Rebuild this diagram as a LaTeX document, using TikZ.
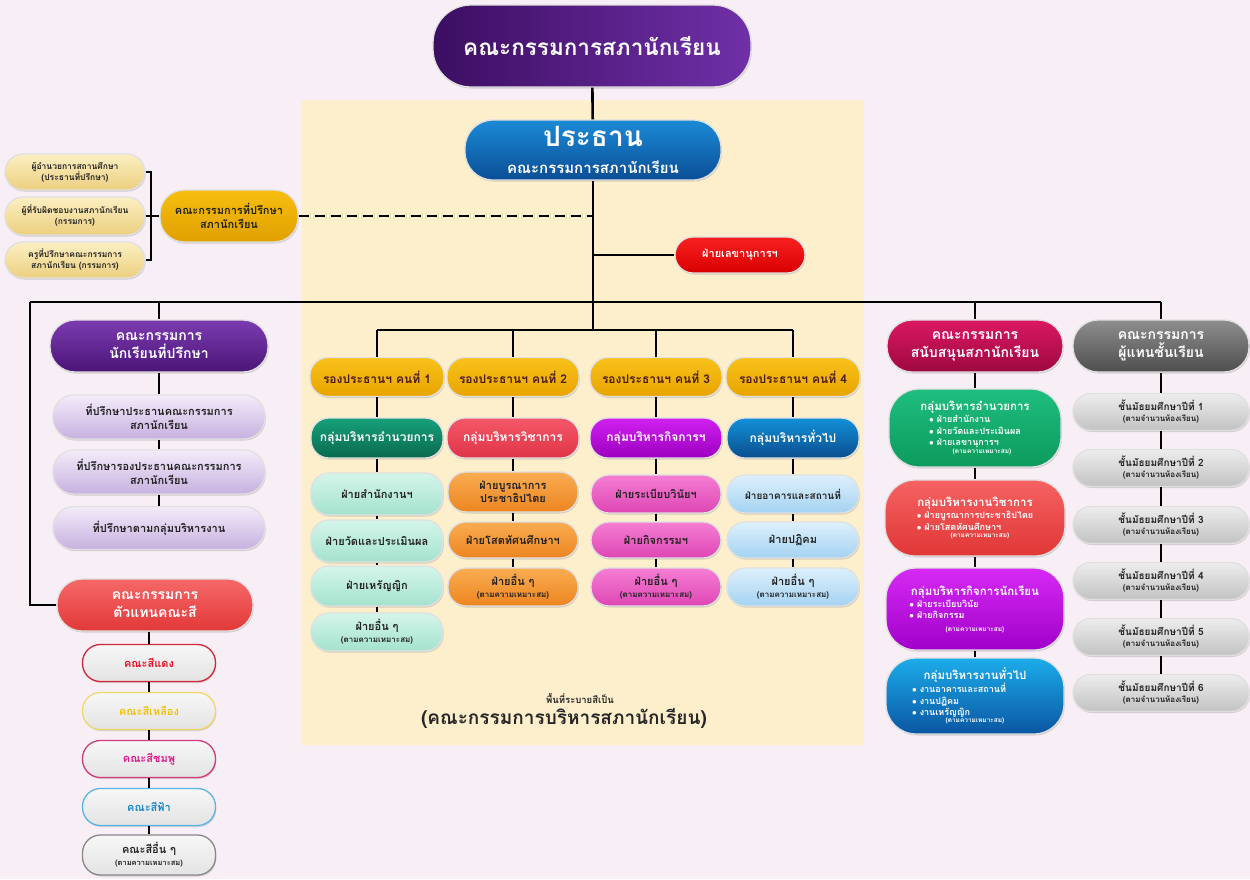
\documentclass[tikz,border=0pt]{standalone}
\usepackage{fontspec}
\setmainfont[Script=Thai]{Loma}
\usetikzlibrary{shadows}
\definecolor{bgc}{HTML}{F7EFF5}
\definecolor{cream}{HTML}{FDEFCC}
\definecolor{txtdark}{HTML}{222222}
\newcommand\FS[2]{\fontsize{#1}{#2}\selectfont}
\newcommand\nt[1]{{\FS{8}{9}#1}}
\begin{document}
\begin{tikzpicture}[x=1pt,y=-1pt,
  sh/.code 2 args={\definecolor{tmpT}{HTML}{#1}\definecolor{tmpB}{HTML}{#2}\pgfkeysalso{top color=tmpT, bottom color=tmpB}},
  lr/.code 2 args={\definecolor{tmpL}{HTML}{#1}\definecolor{tmpR}{HTML}{#2}\pgfkeysalso{left color=tmpL, right color=tmpR}},
  dc/.code={\definecolor{tmpD}{HTML}{#1}\pgfkeysalso{draw=tmpD}},
  tc/.code={\definecolor{tmpX}{HTML}{#1}\pgfkeysalso{text=tmpX}},
  pill/.style={rectangle, rounded corners=#1, align=center, inner sep=1pt, draw=black!12, line width=1.3pt, font=\bfseries, drop shadow={opacity=0.3, shadow xshift=0.8pt, shadow yshift=-1.5pt}},
  pill/.default=18pt,
  wh/.style 2 args={minimum width=#1, minimum height=#2},
  conn/.style={line width=2.6pt, black},
  wt/.style={text=white},
  dk/.style={text=txtdark},
  small/.style={pill, sh={FCEFC2}{ECCF80}, dk, wh={140}{36}, font=\bfseries\FS{8.5}{11}},
  lav/.style={pill=21pt, sh={F3ECFA}{C7B0DF}, dk, wh={212}{44}, font=\bfseries\FS{11}{14}},
  colb/.style={pill, sh={F8F7F7}{E3E3E3}, wh={133}{37}, font=\bfseries\FS{11}{13}},
  vice/.style={pill, sh={F8C21A}{E9A400}, tc=4A1A20, wh={132}{39}, font=\bfseries\FS{12}{14}},
  grp/.style={pill, wt, wh={132}{40}, font=\bfseries\FS{12}{14}},
  sub/.style={pill, dk, wh={130}{40}, font=\bfseries\FS{11}{13}},
  mint/.style={sub, sh={D4F5EA}{A4E2CE}},
  orng/.style={sub, sh={F9AC52}{EC8520}},
  pnk/.style={sub, sh={F57ED2}{DE46B4}},
  lblu/.style={sub, sh={DDF0FC}{A4D2F2}},
  head/.style={pill=25pt, wt, wh={176}{52}, font=\bfseries\FS{14}{18}},
  rbox/.style={pill=30pt, wt, wh={176}{76}, font=\bfseries\FS{9}{11.5}},
  grey/.style={pill, dk, sh={EDEDED}{C2C2C2}, wh={176}{37}, font=\bfseries\FS{10}{12}},
]
\useasboundingbox (0,0) rectangle (1250,879);
\fill[bgc] (0,0) rectangle (1250,879);
\fill[cream] (302,100) rectangle (864,745);

% ---------- top ----------
\node[pill=38pt, wt, lr={3C0E62}{7030A8}, wh={318}{82}, font=\bfseries\FS{22.5}{26}] (top) at (592,46) {คณะกรรมการสภานักเรียน};
\node[pill=28pt, wt, sh={1C8AD6}{0A4E96}, wh={256}{60}, font=\bfseries\FS{15}{27}] (chair) at (593,150) {{\FS{28}{30}ประธาน}\\คณะกรรมการสภานักเรียน};

% ---------- advisors ----------
\node[small] (s1) at (75,172) {ผู้อำนวยการสถานศึกษา\\(ประธานที่ปรึกษา)};
\node[small, wh={140}{38}] (s2) at (75,216) {ผู้ที่รับผิดชอบงานสภานักเรียน\\(กรรมการ)};
\node[small] (s3) at (75,260) {ครูที่ปรึกษาคณะกรรมการ\\สภานักเรียน (กรรมการ)};
\node[pill=24pt, sh={F7BE10}{E0A000}, dk, wh={138}{52}, font=\bfseries\FS{11}{14}] (ga) at (229,216) {คณะกรรมการที่ปรึกษา\\สภานักเรียน};
\node[pill, wt, sh={F82020}{D80000}, wh={130}{36}, font=\bfseries\FS{11}{13}] (sec) at (740,255) {ฝ่ายเลขานุการฯ};

% ---------- left column ----------
\node[head, sh={7C3CB0}{4A1478}, wh={218}{52}] (adv) at (159,346) {คณะกรรมการ\\นักเรียนที่ปรึกษา};
\node[lav] (l1) at (159,417) {ที่ปรึกษาประธานคณะกรรมการ\\สภานักเรียน};
\node[lav] (l2) at (159,472) {ที่ปรึกษารองประธานคณะกรรมการ\\สภานักเรียน};
\node[lav, wh={212}{43}] (l3) at (159,528) {ที่ปรึกษาตามกลุ่มบริหารงาน};

\node[head, sh={F66868}{E23838}, wh={196}{52}] (rep) at (155,605) {คณะกรรมการ\\ตัวแทนคณะสี};
\node[colb, dc=D02838, tc=E8101E] (k1) at (149,663) {คณะสีแดง};
\node[colb, dc=F0D868, tc=F2C200] (k2) at (149,711) {คณะสีเหลือง};
\node[colb, dc=D03A80, tc=E0188A] (k3) at (149,759) {คณะสีชมพู};
\node[colb, dc=58B4E4, tc=1A86CE] (k4) at (149,807) {คณะสีฟ้า};
\node[colb, dc=888888, dk, wh={133}{40}] (k5) at (149,855) {คณะสีอื่น ๆ\\[-1pt]{\FS{7.5}{8}(ตามความเหมาะสม)}};

% ---------- middle ----------
\node[vice, wh={134}{39}] (v1) at (377,377) {รองประธานฯ คนที่ 1};
\node[vice] (v2) at (513,377) {รองประธานฯ คนที่ 2};
\node[vice] (v3) at (656,377) {รองประธานฯ คนที่ 3};
\node[vice, wh={134}{39}] (v4) at (793,377) {รองประธานฯ คนที่ 4};

\node[grp, sh={16A07A}{0A6A4E}] (g1) at (377,438) {กลุ่มบริหารอำนวยการ};
\node[grp, sh={F45868}{E03448}] (g2) at (513,438) {กลุ่มบริหารวิชาการ};
\node[grp, sh={D020F0}{9C00C0}] (g3) at (656,438) {กลุ่มบริหารกิจการฯ};
\node[grp, sh={1290D8}{0A4E8E}] (g4) at (793,438) {กลุ่มบริหารทั่วไป};

\node[mint, wh={132}{42}] (a1) at (377,494) {ฝ่ายสำนักงานฯ};
\node[mint, wh={132}{42}] (b1) at (377,541) {ฝ่ายวัดและประเมินผล};
\node[mint, wh={132}{40}] (c1) at (377,586) {ฝ่ายเหรัญญิก};
\node[mint, wh={132}{38}] (d1) at (377,632) {ฝ่ายอื่น ๆ\\[-1pt]\nt{(ตามความเหมาะสม)}};

\node[orng] (a2) at (513,492) {ฝ่ายบูรณาการ\\ประชาธิปไตย};
\node[orng, wh={130}{36}] (b2) at (513,540) {ฝ่ายโสตทัศนศึกษาฯ};
\node[orng, wh={130}{38}] (c2) at (513,587) {ฝ่ายอื่น ๆ\\[-1pt]\nt{(ตามความเหมาะสม)}};

\node[pnk, wh={130}{38}] (a3) at (656,494) {ฝ่ายระเบียบวินัยฯ};
\node[pnk, wh={130}{36}] (b3) at (656,540) {ฝ่ายกิจกรรมฯ};
\node[pnk, wh={130}{38}] (c3) at (656,587) {ฝ่ายอื่น ๆ\\[-1pt]\nt{(ตามความเหมาะสม)}};

\node[lblu, wh={132}{38}, font=\bfseries\FS{10}{12}] (a4) at (793,494) {ฝ่ายอาคารและสถานที่};
\node[lblu, wh={132}{36}] (b4) at (793,540) {ฝ่ายปฏิคม};
\node[lblu, wh={132}{38}] (c4) at (793,587) {ฝ่ายอื่น ๆ\\[-1pt]\nt{(ตามความเหมาะสม)}};

\node[font=\bfseries\FS{9.5}{11}, text=black!85] (n1) at (580,698) {พื้นที่ระบายสีเป็น};
\node[font=\bfseries\FS{19}{22}, text=black!85] (n2) at (564,718) {(คณะกรรมการบริหารสภานักเรียน)};

% ---------- right support ----------
\node[head, sh={DA1862}{9E0840}] (sup) at (975,346) {คณะกรรมการ\\สนับสนุนสภานักเรียน};
\node[rbox, sh={1EBE80}{0C9A5C}, wh={172}{78}] (rg) at (975,428) {{\FS{11.5}{13}กลุ่มบริหารอำนวยการ}\\
  \begin{tabular}{@{}l@{}}$\bullet$ ฝ่ายสำนักงาน\\$\bullet$ ฝ่ายวัดและประเมินผล\\$\bullet$ ฝ่ายเลขานุการฯ\end{tabular}\\[-2pt]{\FS{6.5}{7}\hspace*{14pt}(ตามความเหมาะสม)}};
\node[rbox, sh={F66262}{E03636}, wh={180}{76}] (rr) at (975,518) {{\FS{11.5}{13}กลุ่มบริหารงานวิชาการ}\\
  \begin{tabular}{@{}l@{}}$\bullet$ ฝ่ายบูรณาการประชาธิปไตย\\$\bullet$ ฝ่ายโสตทัศนศึกษาฯ\end{tabular}\\[-2pt]{\FS{6.5}{7}\hspace*{10pt}(ตามความเหมาะสม)}};
\node[rbox, sh={D62AF4}{A000CA}, wh={178}{82}] (rp) at (975,609) {{\FS{11.5}{13}กลุ่มบริหารกิจการนักเรียน}\\
  \begin{tabular}{@{}l@{}}$\bullet$ ฝ่ายระเบียบวินัย\\$\bullet$ ฝ่ายกิจกรรม\end{tabular}\hspace*{62pt}\mbox{}\\[3pt]{\FS{6.5}{7}(ตามความเหมาะสม)}};
\node[rbox, sh={1CACEA}{0A56A2}, wh={178}{76}] (rb) at (975,696) {{\FS{11.5}{13}กลุ่มบริหารงานทั่วไป}\\
  \begin{tabular}{@{}l@{}}$\bullet$ งานอาคารและสถานที่\\$\bullet$ งานปฏิคม\\$\bullet$ งานเหรัญญิก\end{tabular}\hspace*{32pt}\mbox{}\\[-2pt]{\FS{6.5}{7}(ตามความเหมาะสม)}};

% ---------- right class reps ----------
\node[head, sh={8E8E8E}{4E4E4E}] (cls) at (1161,346) {คณะกรรมการ\\ผู้แทนชั้นเรียน};
\node[grey] (m1) at (1161,412) {ชั้นมัธยมศึกษาปีที่ 1\\[-1pt]\nt{(ตามจำนวนห้องเรียน)}};
\node[grey] (m2) at (1161,468) {ชั้นมัธยมศึกษาปีที่ 2\\[-1pt]\nt{(ตามจำนวนห้องเรียน)}};
\node[grey] (m3) at (1161,525) {ชั้นมัธยมศึกษาปีที่ 3\\[-1pt]\nt{(ตามจำนวนห้องเรียน)}};
\node[grey] (m4) at (1161,581) {ชั้นมัธยมศึกษาปีที่ 4\\[-1pt]\nt{(ตามจำนวนห้องเรียน)}};
\node[grey] (m5) at (1161,637) {ชั้นมัธยมศึกษาปีที่ 5\\[-1pt]\nt{(ตามจำนวนห้องเรียน)}};
\node[grey] (m6) at (1161,693) {ชั้นมัธยมศึกษาปีที่ 6\\[-1pt]\nt{(ตามจำนวนห้องเรียน)}};

% ---------- connectors ----------
\coordinate (barL) at (30,302);
\coordinate (barR) at (1161,302);
\coordinate (mid) at (593,330);
\coordinate (brk) at (151,216);
\draw[conn] (top) -- (chair);
\draw[conn] (chair.south) -- (mid);
\draw[conn] (barL) -- (barR);
\draw[conn, dash pattern=on 10pt off 6pt] (ga.east) -- (ga.east -| chair.south);
\draw[conn] (sec.west -| chair.south) -- (sec.west);
\draw[conn] (s1.east) -- (s1.east -| brk) -- (s3.east -| brk) -- (s3.east);
\draw[conn] (s2.east) -- (ga.west);
\draw[conn] (v1.north |- mid) -- (v4.north |- mid);
\foreach \v in {v1,v2,v3,v4} \draw[conn] (\v.north |- mid) -- (\v.north);
\draw[conn] (v1) -- (g1) -- (a1) -- (b1) -- (c1) -- (d1);
\draw[conn] (v2) -- (g2) -- (a2) -- (b2) -- (c2);
\draw[conn] (v3) -- (g3) -- (a3) -- (b3) -- (c3);
\draw[conn] (v4) -- (g4) -- (a4) -- (b4) -- (c4);
\draw[conn] (adv.north |- barL) -- (adv.north);
\draw[conn] (adv) -- (l1) -- (l2) -- (l3);
\draw[conn] (barL) |- (rep.west);
\draw[conn] (rep.south -| k1) -- (k1) -- (k2) -- (k3) -- (k4) -- (k5);
\draw[conn] (sup.north |- barR) -- (sup.north);
\draw[conn] (sup) -- (rg) -- (rr) -- (rp) -- (rb);
\draw[conn] (barR) -- (cls.north);
\draw[conn] (cls) -- (m1) -- (m2) -- (m3) -- (m4) -- (m5) -- (m6);
\end{tikzpicture}
\end{document}
